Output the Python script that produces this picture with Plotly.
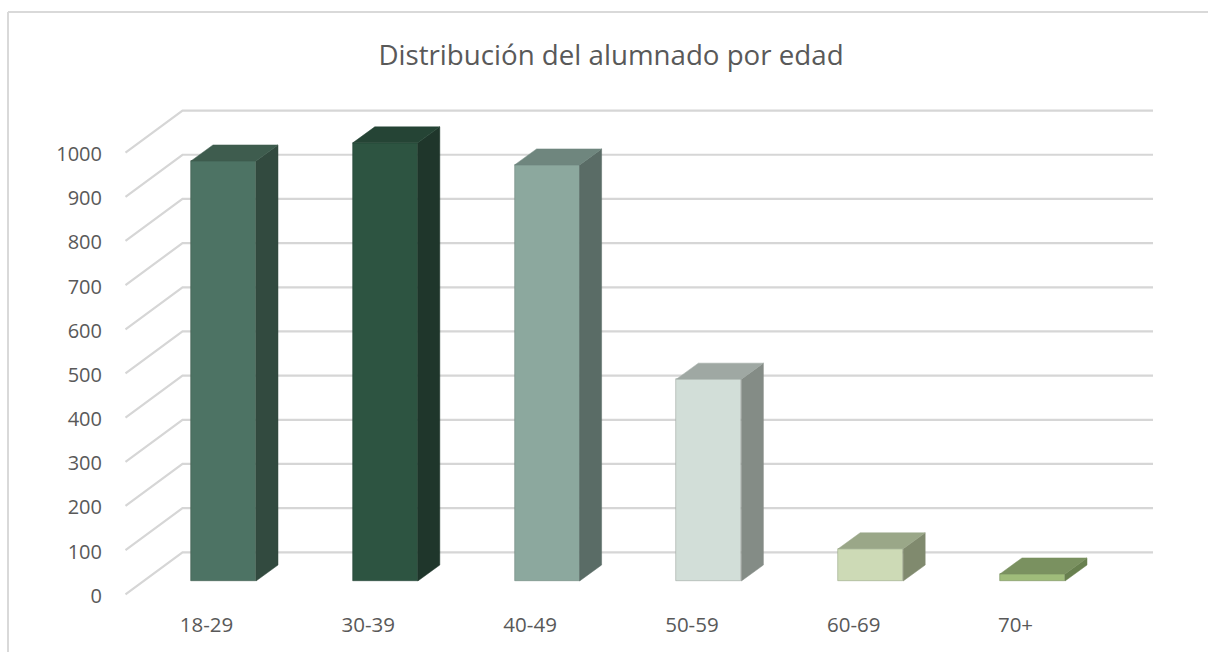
import plotly.graph_objects as go

categories = ["18-29", "30-39", "40-49", "50-59", "60-69", "70+"]
values = [951, 992, 942, 457, 73, 16]
tick_values = [0, 100, 200, 300, 400, 500, 600, 700, 800, 900, 1000]
title_text = "Distribución del alumnado por edad"

front_colors = ["#4d7364", "#2d5441", "#8ca89e", "#d2ded8", "#cddab6", "#9fbc7a"]
side_colors = ["#324a3f", "#1f362b", "#5a6c66", "#848c86", "#808a6e", "#68804f"]
top_colors = ["#3e5c4e", "#254435", "#6f867e", "#9fa8a3", "#9aa788", "#7a9160"]

W, H = 1208, 652
PL, PR, PT, PB = 120, 1160, 100, 600
PX_PER_CAT = 161.8
PX_PER_VAL = 0.4417
X0_PX, Y0_PX = 223.5, 594.3

x_range = [(PL - X0_PX) / PX_PER_CAT, (PR - X0_PX) / PX_PER_CAT]
y_range = [(Y0_PX - PB) / PX_PER_VAL, (Y0_PX - PT) / PX_PER_VAL]
dxu = lambda px: px / PX_PER_CAT
dyu = lambda px: px / PX_PER_VAL

WALL_DX, WALL_DY = dxu(57), dyu(42)
BAR_BASE = dyu(13.3)
BAR_W = dxu(65)
BAR_DX, BAR_DY = dxu(22), dyu(16)
GRID_START = dxu(125.5 - X0_PX)
GRID_END = dxu(1153 - X0_PX)

idx = list(range(len(categories)))
fig = go.Figure()

# front faces
fig.add_trace(go.Bar(
    x=idx, y=values, base=[BAR_BASE] * len(values), width=BAR_W,
    marker=dict(color=front_colors, line=dict(color=top_colors, width=0.6)),
    hoverinfo="skip", showlegend=False,
))

# side and top faces
for i, v in zip(idx, values):
    r = i + BAR_W / 2
    l = i - BAR_W / 2
    t = BAR_BASE + v
    fig.add_trace(go.Scatter(
        x=[r, r + BAR_DX, r + BAR_DX, r, r],
        y=[BAR_BASE, BAR_BASE + BAR_DY, t + BAR_DY, t, BAR_BASE],
        mode="lines", fill="toself", fillcolor=side_colors[i],
        line=dict(color=side_colors[i], width=0.5),
        hoverinfo="skip", showlegend=False,
    ))
    fig.add_trace(go.Scatter(
        x=[l, l + BAR_DX, r + BAR_DX, r, l],
        y=[t, t + BAR_DY, t + BAR_DY, t, t],
        mode="lines", fill="toself", fillcolor=top_colors[i],
        line=dict(color=top_colors[i], width=0.5),
        hoverinfo="skip", showlegend=False,
    ))

shapes = []
for v in tick_values:
    bx = GRID_START + WALL_DX
    by = v + WALL_DY
    shapes.append(dict(
        type="path", layer="below", xref="x", yref="y",
        path=f"M {GRID_START} {v} L {bx} {by} L {GRID_END} {by}",
        line=dict(color="#d6d6d6", width=2.2),
    ))

px_x = lambda p: (p - PL) / (PR - PL)
px_y = lambda p: (PB - p) / (PB - PT)
shapes.append(dict(type="line", xref="paper", yref="paper",
                   x0=px_x(8), x1=px_x(W), y0=px_y(12), y1=px_y(12),
                   line=dict(color="#d9d9d9", width=2)))
shapes.append(dict(type="line", xref="paper", yref="paper",
                   x0=px_x(8), x1=px_x(8), y0=px_y(12), y1=px_y(H),
                   line=dict(color="#d9d9d9", width=2)))

FONT = "Open Sans"
fig.update_layout(
    width=W, height=H, autosize=False,
    margin=dict(l=PL, r=W - PR, t=PT, b=H - PB, pad=0),
    paper_bgcolor="white", plot_bgcolor="rgba(0,0,0,0)",
    showlegend=False, shapes=shapes, bargap=0,
    font=dict(family=FONT, color="#595959", size=20),
    title=dict(text=title_text, x=611 / W, xanchor="center", y=1 - 55 / H, yanchor="middle",
               font=dict(family=FONT, size=27.7, color="#595959")),
    xaxis=dict(range=x_range, tickmode="array",
               tickvals=[i - dxu(17) for i in idx], ticktext=categories,
               showgrid=False, zeroline=False, showline=False,
               ticks="outside", ticklen=6, tickcolor="rgba(0,0,0,0)", tickangle=0,
               tickfont=dict(size=20.5, color="#595959")),
    yaxis=dict(range=y_range, tickmode="array", tickvals=[v - dyu(1.5) for v in tick_values],
               ticktext=[str(v) for v in tick_values],
               showgrid=False, zeroline=False, showline=False,
               ticks="outside", ticklen=13, tickcolor="rgba(0,0,0,0)",
               tickfont=dict(size=20, color="#595959")),
)

fig.write_html("out.html", config={"displayModeBar": False},
               post_script="document.body.style.margin='0';document.body.style.overflow='hidden';")
